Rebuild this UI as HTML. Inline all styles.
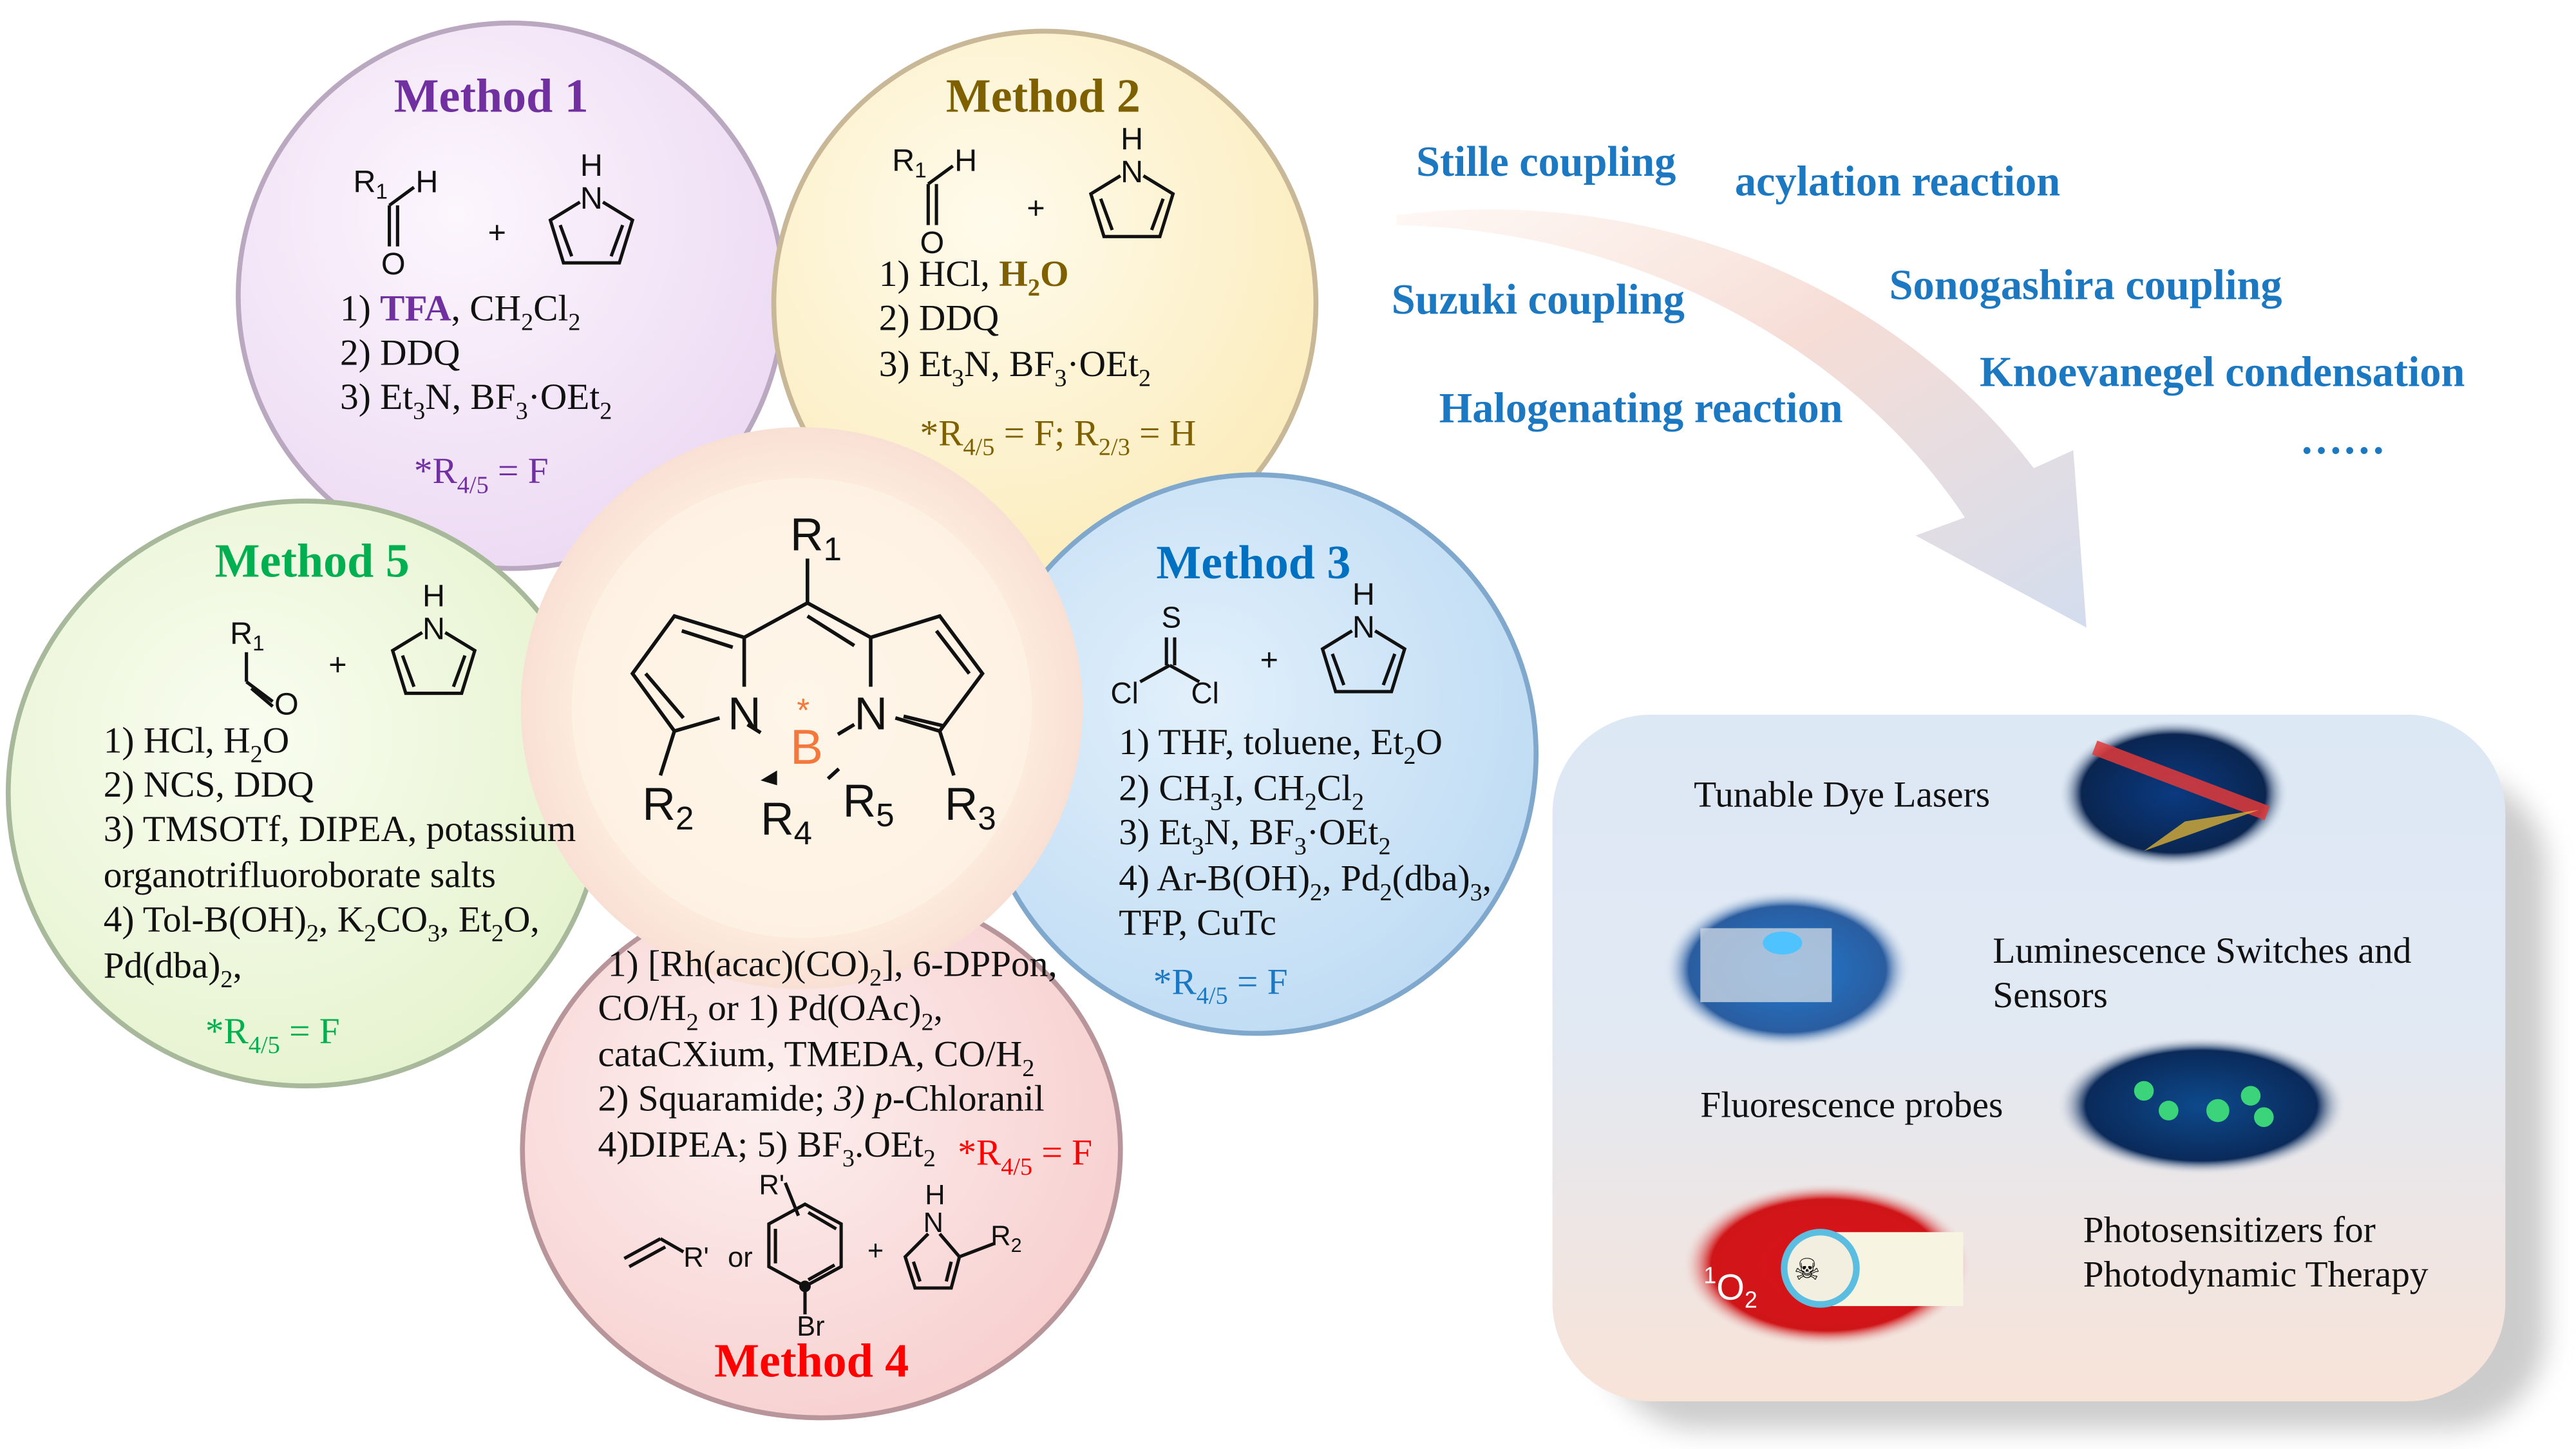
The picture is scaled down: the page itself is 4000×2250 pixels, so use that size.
<!DOCTYPE html>
<html><head><meta charset="utf-8"><style>
html,body{margin:0;padding:0;background:#fff;}
svg{display:block}
.t{font-family:"Liberation Serif",serif;font-size:22.5px;fill:#111}
.s{font-family:"Liberation Sans",sans-serif;fill:#111}
.h{font-family:"Liberation Serif",serif;font-weight:bold;font-size:29px}
.b{font-family:"Liberation Serif",serif;font-weight:bold;font-size:26px;fill:#1c78c0}
.ap{font-family:"Liberation Serif",serif;font-size:22.5px;fill:#111}
</style></head><body>
<svg width="4000" height="2250" viewBox="0 0 1568 882" xmlns="http://www.w3.org/2000/svg">
<defs>
<radialGradient id="g1" cx="0.4" cy="0.35" r="0.7"><stop offset="0" stop-color="#fcf6fd"/><stop offset="1" stop-color="#ecd9f3"/></radialGradient>
<radialGradient id="g2" cx="0.4" cy="0.35" r="0.7"><stop offset="0" stop-color="#fffbec"/><stop offset="1" stop-color="#fbecbb"/></radialGradient>
<radialGradient id="g5" cx="0.4" cy="0.4" r="0.7"><stop offset="0" stop-color="#f9fdf0"/><stop offset="1" stop-color="#e4f2cc"/></radialGradient>
<radialGradient id="g3" cx="0.4" cy="0.4" r="0.7"><stop offset="0" stop-color="#e2f0fb"/><stop offset="1" stop-color="#bcdaf3"/></radialGradient>
<radialGradient id="g4" cx="0.4" cy="0.4" r="0.7"><stop offset="0" stop-color="#fdf0f0"/><stop offset="1" stop-color="#f7cdcd"/></radialGradient>
<radialGradient id="gc" cx="0.5" cy="0.5" r="0.5"><stop offset="0" stop-color="#fffbf0"/><stop offset="0.75" stop-color="#fdeee0"/><stop offset="1" stop-color="#f9e0d4"/></radialGradient>
<linearGradient id="gp" x1="0" y1="0" x2="0" y2="1"><stop offset="0" stop-color="#dde8f5"/><stop offset="0.45" stop-color="#e1e9f3"/><stop offset="1" stop-color="#f8e3d8"/></linearGradient>
<linearGradient id="ga" x1="0" y1="0" x2="1" y2="1"><stop offset="0" stop-color="#fbe6dc" stop-opacity="0.3"/><stop offset="0.45" stop-color="#f6ddd6"/><stop offset="1" stop-color="#d3ddee"/></linearGradient>
<radialGradient id="i1" cx="0.5" cy="0.5" r="0.5"><stop offset="0" stop-color="#0a3a80"/><stop offset="0.8" stop-color="#0a2550"/><stop offset="1" stop-color="#dde8f5" stop-opacity="0"/></radialGradient>
<radialGradient id="i2" cx="0.5" cy="0.5" r="0.5"><stop offset="0" stop-color="#1f7ad0"/><stop offset="0.8" stop-color="#2a5da0"/><stop offset="1" stop-color="#dde8f5" stop-opacity="0"/></radialGradient>
<radialGradient id="i3" cx="0.5" cy="0.5" r="0.5"><stop offset="0" stop-color="#0d4a8c"/><stop offset="0.8" stop-color="#0a2a5a"/><stop offset="1" stop-color="#e2e8f0" stop-opacity="0"/></radialGradient>
<radialGradient id="i4" cx="0.5" cy="0.5" r="0.5"><stop offset="0" stop-color="#d8141a"/><stop offset="0.8" stop-color="#d01518"/><stop offset="1" stop-color="#f0e4e0" stop-opacity="0"/></radialGradient>
<filter id="sh" x="-10%" y="-10%" width="130%" height="130%"><feGaussianBlur stdDeviation="8"/></filter>
<g id="pyr">
<polyline points="-7,-17 -25,-6 -17,20 17,20 25,-6 7,-17" fill="none" stroke="#111" stroke-width="2"/>
<line x1="-19" y1="-3" x2="-12" y2="16" stroke="#111" stroke-width="2"/><line x1="19" y1="-3" x2="12" y2="16" stroke="#111" stroke-width="2"/>
<text x="0" y="-13" class="s" font-size="19" text-anchor="middle">N</text>
<text x="0" y="-33" class="s" font-size="19" text-anchor="middle">H</text>
</g>
</defs>

<!-- arrow -->
<path d="M850,131 C1000,112 1150,170 1238,285 L1262,274 L1270,382 L1166,326 L1196,315 C1130,215 1000,140 850,137 Z" fill="url(#ga)"/>

<!-- panel -->
<rect x="975" y="470" width="575" height="400" rx="60" fill="#9a9a9a" opacity="0.5" filter="url(#sh)"/>
<rect x="945" y="435" width="580" height="418" rx="60" fill="url(#gp)"/>
<ellipse cx="1323" cy="483" rx="70" ry="45" fill="url(#i1)"/>
<line x1="1275" y1="455" x2="1380" y2="495" stroke="#e23a3a" stroke-width="9" opacity="0.85"/>
<path d="M1375 493 L1305 518 L1330 500Z" fill="#f5c030" opacity="0.7"/>
<ellipse cx="1088" cy="590" rx="75" ry="48" fill="url(#i2)"/>
<rect x="1035" y="565" width="80" height="45" fill="#c9d5e2" opacity="0.8"/>
<ellipse cx="1085" cy="574" rx="12" ry="7" fill="#4fc3ff"/>
<ellipse cx="1340" cy="673" rx="88" ry="42" fill="url(#i3)"/>
<g fill="#3bd47a"><circle cx="1305" cy="664" r="6"/><circle cx="1320" cy="676" r="6"/><circle cx="1350" cy="676" r="7"/><circle cx="1370" cy="667" r="6"/><circle cx="1378" cy="680" r="6"/></g>
<ellipse cx="1112" cy="770" rx="88" ry="50" fill="url(#i4)"/>
<rect x="1115" y="750" width="80" height="45" fill="#f7f5e2"/>
<circle cx="1108" cy="772" r="22" fill="#f3efe0" stroke="#5bbde0" stroke-width="4"/>
<text x="1100" y="779" font-size="18" text-anchor="middle">☠</text>
<text x="1037" y="791" class="s" font-size="22" style="fill:#fff"><tspan font-size="14" dy="-10">1</tspan><tspan dy="10">O</tspan><tspan font-size="14" dy="5">2</tspan></text>
<text x="1031" y="491" class="ap">Tunable Dye Lasers</text>
<text x="1213" y="586" class="ap">Luminescence Switches and</text>
<text x="1213" y="613" class="ap">Sensors</text>
<text x="1035" y="680" class="ap">Fluorescence probes</text>
<text x="1268" y="756" class="ap">Photosensitizers for</text>
<text x="1268" y="783" class="ap">Photodynamic Therapy</text>

<!-- reaction labels -->
<text x="862" y="107" class="b">Stille coupling</text>
<text x="1056" y="119" class="b">acylation reaction</text>
<text x="847" y="191" class="b">Suzuki coupling</text>
<text x="1150" y="182" class="b">Sonogashira coupling</text>
<text x="876" y="257" class="b">Halogenating reaction</text>
<text x="1205" y="235" class="b">Knoevanegel condensation</text>
<text x="1400" y="276" class="b">……</text>

<!-- circles -->
<ellipse cx="311" cy="180" rx="166" ry="166" fill="url(#g1)" stroke="#b9a8bf" stroke-width="3"/>
<ellipse cx="636" cy="185" rx="165" ry="166" fill="url(#g2)" stroke="#c8b898" stroke-width="3"/>
<ellipse cx="765" cy="459" rx="170" ry="170" fill="url(#g3)" stroke="#7fa8cc" stroke-width="3"/>
<ellipse cx="186" cy="483" rx="181" ry="178" fill="url(#g5)" stroke="#a8b89a" stroke-width="3"/>
<ellipse cx="500" cy="700" rx="182" ry="163" fill="url(#g4)" stroke="#b8959a" stroke-width="3"/>
<circle cx="488" cy="431" r="171" fill="url(#gc)"/>
<circle cx="488" cy="431" r="140" fill="#fdf3e6" opacity="0.7"/>

<!-- Method 1 -->
<text x="299" y="68" class="h" fill="#7030a0" text-anchor="middle">Method 1</text>
<g class="s" font-size="19"><text x="215" y="117">R<tspan font-size="13" dy="4">1</tspan></text><text x="253" y="117">H</text><text x="232" y="167">O</text></g>
<g stroke="#111" stroke-width="2"><line x1="237" y1="125" x2="237" y2="150"/><line x1="242" y1="125" x2="242" y2="150"/><line x1="237" y1="125" x2="252" y2="114"/></g>
<text x="297" y="148" class="s" font-size="19">+</text>
<use href="#pyr" x="360" y="140"/>
<text x="207" y="195" class="t">1) <tspan fill="#7030a0" font-weight="bold">TFA</tspan>, CH<tspan font-size="15" dy="6">2</tspan><tspan dy="-6">Cl</tspan><tspan font-size="15" dy="6">2</tspan></text>
<text x="207" y="222" class="t">2) DDQ</text>
<text x="207" y="249" class="t">3) Et<tspan font-size="15" dy="6">3</tspan><tspan dy="-6">N, BF</tspan><tspan font-size="15" dy="6">3</tspan><tspan dy="-6">·OEt</tspan><tspan font-size="15" dy="6">2</tspan></text>
<text x="252" y="294" class="t" style="fill:#7030a0">*R<tspan font-size="15" dy="6">4/5</tspan><tspan dy="-6"> = F</tspan></text>

<!-- Method 2 -->
<text x="635" y="68" class="h" fill="#7f6000" text-anchor="middle">Method 2</text>
<g class="s" font-size="19"><text x="543" y="104">R<tspan font-size="13" dy="4">1</tspan></text><text x="581" y="104">H</text><text x="560" y="154">O</text></g>
<g stroke="#111" stroke-width="2"><line x1="565" y1="112" x2="565" y2="137"/><line x1="570" y1="112" x2="570" y2="137"/><line x1="565" y1="112" x2="580" y2="101"/></g>
<text x="625" y="133" class="s" font-size="19">+</text>
<use href="#pyr" x="689" y="124"/>
<text x="535" y="174" class="t">1) HCl, <tspan fill="#7f6000" font-weight="bold">H<tspan font-size="15" dy="6">2</tspan><tspan dy="-6">O</tspan></tspan></text>
<text x="535" y="201" class="t">2) DDQ</text>
<text x="535" y="229" class="t">3) Et<tspan font-size="15" dy="6">3</tspan><tspan dy="-6">N, BF</tspan><tspan font-size="15" dy="6">3</tspan><tspan dy="-6">·OEt</tspan><tspan font-size="15" dy="6">2</tspan></text>
<text x="560" y="271" class="t" style="fill:#7f6000">*R<tspan font-size="15" dy="6">4/5</tspan><tspan dy="-6"> = F; R</tspan><tspan font-size="15" dy="6">2/3</tspan><tspan dy="-6"> = H</tspan></text>

<!-- Method 3 -->
<text x="763" y="352" class="h" fill="#0070c0" text-anchor="middle">Method 3</text>
<g class="s" font-size="18"><text x="707" y="382">S</text><text x="676" y="428">Cl</text><text x="725" y="428">Cl</text></g>
<g stroke="#111" stroke-width="2"><line x1="710" y1="388" x2="710" y2="405"/><line x1="715" y1="388" x2="715" y2="405"/><line x1="712" y1="405" x2="694" y2="415"/><line x1="712" y1="405" x2="730" y2="415"/></g>
<text x="767" y="408" class="s" font-size="19">+</text>
<use href="#pyr" x="830" y="401"/>
<text x="681" y="459" class="t">1) THF, toluene, Et<tspan font-size="15" dy="6">2</tspan><tspan dy="-6">O</tspan></text>
<text x="681" y="487" class="t">2) CH<tspan font-size="15" dy="6">3</tspan><tspan dy="-6">I, CH</tspan><tspan font-size="15" dy="6">2</tspan><tspan dy="-6">Cl</tspan><tspan font-size="15" dy="6">2</tspan></text>
<text x="681" y="514" class="t">3) Et<tspan font-size="15" dy="6">3</tspan><tspan dy="-6">N, BF</tspan><tspan font-size="15" dy="6">3</tspan><tspan dy="-6">·OEt</tspan><tspan font-size="15" dy="6">2</tspan></text>
<text x="681" y="542" class="t">4) Ar-B(OH)<tspan font-size="15" dy="6">2</tspan><tspan dy="-6">, Pd</tspan><tspan font-size="15" dy="6">2</tspan><tspan dy="-6">(dba)</tspan><tspan font-size="15" dy="6">3</tspan><tspan dy="-6">,</tspan></text>
<text x="681" y="569" class="t">TFP, CuTc</text>
<text x="702" y="605" class="t" style="fill:#1c78c0">*R<tspan font-size="15" dy="6">4/5</tspan><tspan dy="-6"> = F</tspan></text>

<!-- Method 5 -->
<text x="190" y="351" class="h" fill="#00b050" text-anchor="middle">Method 5</text>
<g class="s" font-size="19"><text x="140" y="392">R<tspan font-size="13" dy="4">1</tspan></text><text x="167" y="435">O</text></g>
<g stroke="#111" stroke-width="2"><line x1="150" y1="397" x2="150" y2="415"/><line x1="150" y1="415" x2="166" y2="427"/><line x1="153" y1="419" x2="166" y2="430"/></g>
<text x="200" y="411" class="s" font-size="19">+</text>
<use href="#pyr" x="264" y="402"/>
<text x="63" y="458" class="t">1) HCl, H<tspan font-size="15" dy="6">2</tspan><tspan dy="-6">O</tspan></text>
<text x="63" y="485" class="t">2) NCS, DDQ</text>
<text x="63" y="512" class="t">3) TMSOTf, DIPEA, potassium</text>
<text x="63" y="540" class="t">organotrifluoroborate salts</text>
<text x="63" y="567" class="t">4) Tol-B(OH)<tspan font-size="15" dy="6">2</tspan><tspan dy="-6">, K</tspan><tspan font-size="15" dy="6">2</tspan><tspan dy="-6">CO</tspan><tspan font-size="15" dy="6">3</tspan><tspan dy="-6">, Et</tspan><tspan font-size="15" dy="6">2</tspan><tspan dy="-6">O,</tspan></text>
<text x="63" y="595" class="t">Pd(dba)<tspan font-size="15" dy="6">2</tspan><tspan dy="-6">,</tspan></text>
<text x="125" y="635" class="t" style="fill:#00b050">*R<tspan font-size="15" dy="6">4/5</tspan><tspan dy="-6"> = F</tspan></text>

<!-- Method 4 -->
<text x="370" y="594" class="t">1) [Rh(acac)(CO)<tspan font-size="15" dy="6">2</tspan><tspan dy="-6">], 6-DPPon,</tspan></text>
<text x="364" y="621" class="t">CO/H<tspan font-size="15" dy="6">2</tspan><tspan dy="-6"> or 1) Pd(OAc)</tspan><tspan font-size="15" dy="6">2</tspan><tspan dy="-6">,</tspan></text>
<text x="364" y="649" class="t">cataCXium, TMEDA, CO/H<tspan font-size="15" dy="6">2</tspan></text>
<text x="364" y="676" class="t">2) Squaramide; <tspan font-style="italic">3) p</tspan>-Chloranil</text>
<text x="364" y="704" class="t">4)DIPEA; 5) BF<tspan font-size="15" dy="6">3</tspan><tspan dy="-6">.OEt</tspan><tspan font-size="15" dy="6">2</tspan></text>
<text x="583" y="709" class="t" style="fill:#ff0000">*R<tspan font-size="15" dy="6">4/5</tspan><tspan dy="-6"> = F</tspan></text>
<g stroke="#111" stroke-width="2" fill="none">
<line x1="380" y1="766" x2="402" y2="754"/><line x1="383" y1="771" x2="405" y2="759"/><line x1="402" y1="754" x2="416" y2="762"/>
<polygon points="490,733 512,745 512,771 490,783 468,771 468,745"/>
<line x1="472" y1="748" x2="472" y2="769"/><line x1="492" y1="738" x2="509" y2="748"/><line x1="492" y1="779" x2="508" y2="770"/>
<line x1="490" y1="783" x2="490" y2="800"/><line x1="478" y1="720" x2="486" y2="740"/>
<polyline points="565,751 551,765 557,784 579,784 584,765 572,751"/>
<line x1="556" y1="768" x2="560" y2="780"/><line x1="579" y1="768" x2="576" y2="780"/>
<line x1="584" y1="765" x2="605" y2="757"/>
</g>
<circle cx="490" cy="783" r="3.5" fill="#111"/>
<g class="s" font-size="17"><text x="416" y="771">R'</text><text x="443" y="771">or</text><text x="462" y="727">R'</text><text x="528" y="767">+</text><text x="485" y="813">Br</text><text x="562" y="750">N</text><text x="563" y="733">H</text><text x="603" y="758">R<tspan font-size="12" dy="4">2</tspan></text></g>
<text x="494" y="838" class="h" fill="#ff0000" text-anchor="middle">Method 4</text>

<!-- BODIPY core -->
<g stroke="#111" stroke-width="2.2" fill="none">
<line x1="491.5" y1="340" x2="491.5" y2="367"/>
<polyline points="453,388 491.5,367 530,388"/>
<line x1="491.5" y1="375" x2="520" y2="393"/>
<line x1="453" y1="388" x2="453" y2="418"/>
<line x1="530" y1="388" x2="530" y2="418"/>
<polyline points="453,388 410.5,375 385,410 410.5,445 438,437"/>
<line x1="415" y1="384" x2="446" y2="394"/>
<line x1="393" y1="410" x2="416" y2="437"/>
<polyline points="530,388 572,375 598,410 572,445 545,437"/>
<line x1="570" y1="384" x2="590" y2="410"/>
<line x1="550" y1="436" x2="575" y2="442"/>
<line x1="410.5" y1="445" x2="402" y2="472"/>
<line x1="572" y1="445" x2="580.6" y2="472"/>
<line x1="455" y1="441" x2="463" y2="446"/><line x1="520" y1="441" x2="510" y2="447"/>
<line x1="510.6" y1="468" x2="504" y2="474"/>
</g>
<polygon points="473,469 463,475 473,478" fill="#111"/>
<g class="s" font-size="28">
<text x="481" y="335">R<tspan font-size="20" dy="6">1</tspan></text>
<text x="443" y="444">N</text><text x="520" y="444">N</text>
<text x="391" y="499">R<tspan font-size="20" dy="6">2</tspan></text>
<text x="463" y="508">R<tspan font-size="20" dy="6">4</tspan></text>
<text x="513" y="497">R<tspan font-size="20" dy="6">5</tspan></text>
<text x="575" y="499">R<tspan font-size="20" dy="6">3</tspan></text>
</g>
<text x="481" y="465" class="s" font-size="30" style="fill:#f4783c">B</text>
<text x="485" y="439" class="s" font-size="20" style="fill:#f4783c">*</text>
</svg>
</body></html>
